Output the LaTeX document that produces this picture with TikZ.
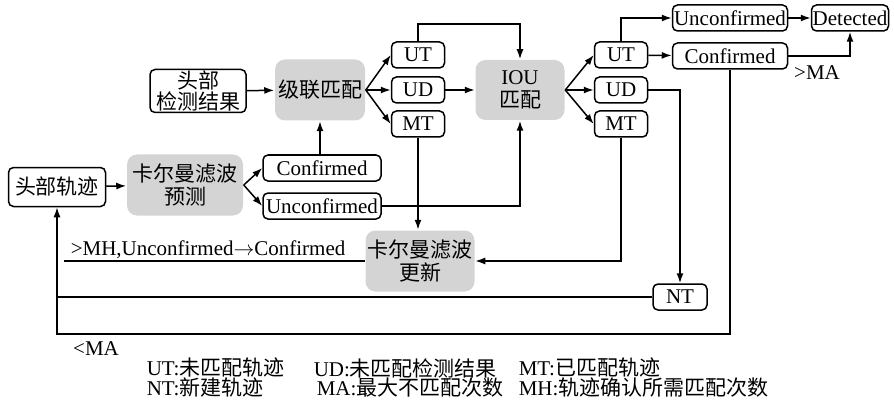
\documentclass[tikz,border=0pt]{standalone}
\usepackage{fontspec}
\setmainfont{Liberation Serif}
\newfontfamily\cjk{Noto Sans CJK SC}
\usetikzlibrary{arrows.meta}
\definecolor{boxgray}{RGB}{212,212,212}
\begin{document}
\begin{tikzpicture}[x=1pt,y=-1pt, line width=1.5pt,
  font=\fontsize{21}{23}\selectfont,
  wbox/.style={draw, rounded corners=5pt, inner sep=0pt, minimum height=26pt},
  gbox/.style={fill=boxgray, rounded corners=10pt, inner sep=0pt, align=center},
  lbl/.style={inner sep=1pt},
  arr/.style={-{Latex[length=10pt,width=7pt]}}]
\useasboundingbox (0,0) rectangle (894,401);
% nodes
\node[wbox, minimum width=97pt, minimum height=39pt] (ht) at (57,187) {\cjk 头部轨迹};
\node[gbox, minimum width=116pt, minimum height=61pt] (kp) at (185,185) {{\cjk 卡尔曼滤波}\\{\cjk 预测}};
\node[wbox, minimum width=118pt] (cf1) at (322,168) {Confirmed};
\node[wbox, minimum width=118pt] (uc1) at (322,206) {Unconfirmed};
\node[wbox, minimum width=96pt, minimum height=43pt, align=center, font=\fontsize{21}{21}\selectfont] (hd) at (198,91) {{\cjk 头部}\\{\cjk 检测结果}};
\node[gbox, minimum width=90pt, minimum height=61pt] (jl) at (320,90) {\cjk 级联匹配};
\node[wbox, minimum width=53pt] (ut1) at (418,55) {UT};
\node[wbox, minimum width=53pt] (ud1) at (418,90) {UD};
\node[wbox, minimum width=53pt] (mt1) at (418,124) {MT};
\node[gbox, minimum width=89pt, minimum height=60pt] (iou) at (520,90) {IOU\\{\cjk 匹配}};
\node[wbox, minimum width=53pt] (ut2) at (621,55) {UT};
\node[wbox, minimum width=53pt] (ud2) at (621,90) {UD};
\node[wbox, minimum width=53pt] (mt2) at (621,124) {MT};
\node[wbox, minimum width=115pt] (uc2) at (730,18) {Unconfirmed};
\node[wbox, minimum width=77pt] (det) at (850,18) {Detected};
\node[wbox, minimum width=115pt] (cf2) at (730,56) {Confirmed};
\node[lbl] (ma1) at (817,73) {>MA};
\node[gbox, minimum width=109pt, minimum height=61pt] (ku) at (420,261) {{\cjk 卡尔曼滤波}\\{\cjk 更新}};
\node[wbox, minimum width=54pt] (nt) at (680,297) {NT};
\node[lbl, anchor=west] (mh) at (69,250) {>MH,Unconfirmed$\rightarrow$Confirmed};
\node[lbl] (lma) at (96,349) {<MA};
% legend
\node[lbl, anchor=west] (l1) at (145,368) {UT:{\cjk 未匹配轨迹}};
\node[lbl, anchor=west] (l2) at (312,368) {UD:{\cjk 未匹配检测结果}};
\node[lbl, anchor=west] (l3) at (517,368) {MT:{\cjk 已匹配轨迹}};
\node[lbl, anchor=west] (l4) at (145,388) {NT:{\cjk 新建轨迹}};
\node[lbl, anchor=west] (l5) at (315,388) {MA:{\cjk 最大不匹配次数}};
\node[lbl, anchor=west] (l6) at (517,388) {MH:{\cjk 轨迹确认所需匹配次数}};
% coordinates
\coordinate (t1) at (0,24);
\coordinate (yb) at (0,334);
\coordinate (mhend) at (64,262);
% connectors
\draw[arr] (ht) -- (kp);
\draw[arr] (kp.east) -- (cf1.west);
\draw[arr] (kp.east) -- (uc1.west);
\draw[arr] (jl.south |- cf1.north) -- (jl.south);
\draw[arr] (hd) -- (jl);
\draw[arr] (jl.east) -- (ut1.west);
\draw[arr] (jl.east) -- (ud1.west);
\draw[arr] (jl.east) -- (mt1.west);
\draw[arr] (ut1.north) -- (ut1.north |- t1) -| (iou.north);
\draw[arr] (ud1) -- (iou);
\draw[arr] (mt1.south) -- (mt1.south |- ku.north);
\draw[arr] (uc1.east) -| (iou.south);
\draw[arr] (iou.east) -- (ut2.west);
\draw[arr] (iou.east) -- (ud2.west);
\draw[arr] (iou.east) -- (mt2.west);
\draw[arr] (ut2) -- (cf2);
\draw[arr] (ut2.north) |- (uc2.west);
\draw[arr] (uc2) -- (det);
\draw[arr] (cf2.east) -| (det.south);
\draw[arr] (cf2.south) |- (ht.south |- yb) -- (ht.south);
\draw[arr] (ud2.east) -| (nt.north);
\draw[arr] (mt2.south) |- (ku.east);
\draw (nt.west) -- (nt.west -| ht.south);
\draw (ku.west) -- (mhend |- ku.west);
\end{tikzpicture}
\end{document}
